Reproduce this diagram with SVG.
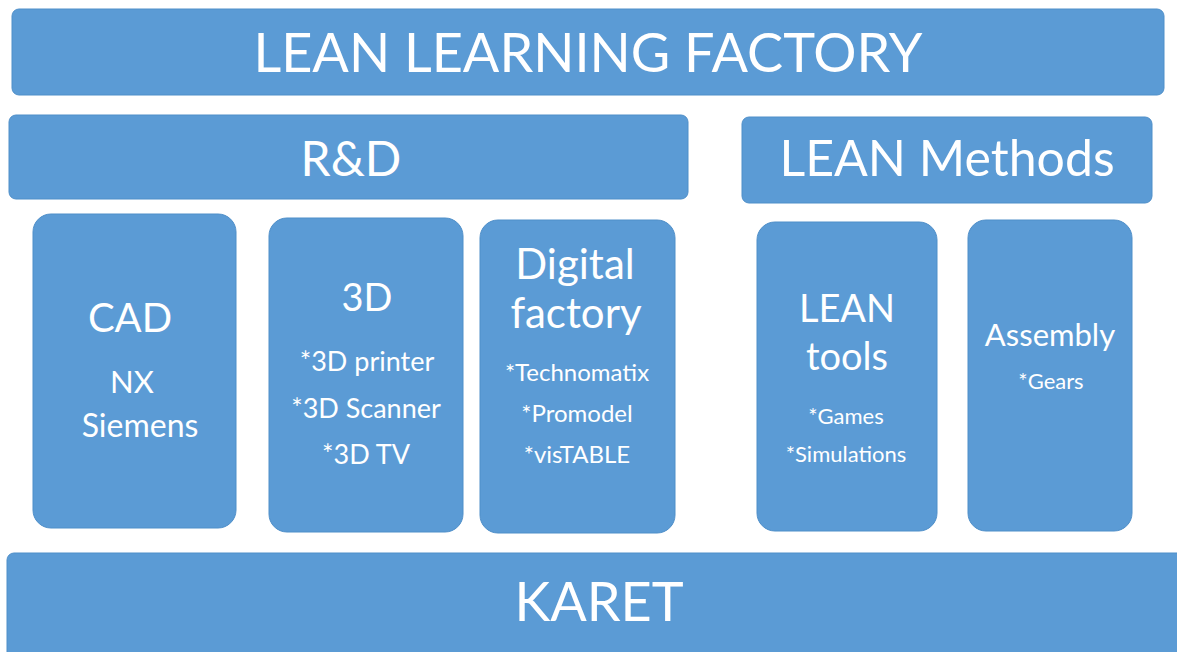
<svg xmlns="http://www.w3.org/2000/svg" width="1177" height="652" viewBox="0 0 1177 652">
<style>
.b{fill:#5b9bd5;stroke:#4f8fc9;stroke-width:1}
text{font-family:Lato,"Open Sans",sans-serif;fill:#fff;text-anchor:middle}
</style>
<rect width="1177" height="652" fill="#fff"/>
<g id="top"><rect class="b" x="12" y="9" width="1152" height="86" rx="7"/><text x="588" y="72" font-size="54">LEAN LEARNING FACTORY</text></g>
<g id="rd"><rect class="b" x="9" y="115" width="679" height="84" rx="7"/><text x="351" y="176" font-size="48">R&amp;D</text></g>
<g id="lean"><rect class="b" x="742" y="117" width="410" height="86" rx="7"/><text x="947" y="176" font-size="50">LEAN Methods</text></g>
<g id="cad"><rect class="b" x="33" y="214" width="203" height="314" rx="18"/><text x="130" y="332" font-size="40">CAD</text><text x="132" y="393" font-size="31">NX</text><text x="140" y="437" font-size="32">Siemens</text></g>
<g id="d3"><rect class="b" x="269" y="218" width="194" height="314" rx="18"/><text x="367" y="311" font-size="38">3D</text><text x="367" y="371" font-size="27">*3D printer</text><text x="366" y="418" font-size="27">*3D Scanner</text><text x="366" y="464" font-size="27">*3D TV</text></g>
<g id="df"><rect class="b" x="480" y="220" width="195" height="313" rx="18"/><text x="575" y="279" font-size="42">Digital</text><text x="576" y="328" font-size="42">factory</text><text x="577" y="381" font-size="24">*Technomatix</text><text x="577" y="422" font-size="24">*Promodel</text><text x="577" y="463" font-size="24">*visTABLE</text></g>
<g id="lt"><rect class="b" x="757" y="222" width="180" height="309" rx="18"/><text x="847" y="322" font-size="38">LEAN</text><text x="847" y="370" font-size="38">tools</text><text x="846" y="424" font-size="22">*Games</text><text x="846" y="462" font-size="22">*Simulations</text></g>
<g id="as"><rect class="b" x="968" y="220" width="164" height="311" rx="18"/><text x="1050" y="346" font-size="31">Assembly</text><text x="1051" y="389" font-size="22">*Gears</text></g>
<g id="karet"><rect class="b" x="7" y="553" width="1180" height="110" rx="7"/><text x="599" y="621" font-size="54">KARET</text></g>
<g id="connectors"/>
</svg>
